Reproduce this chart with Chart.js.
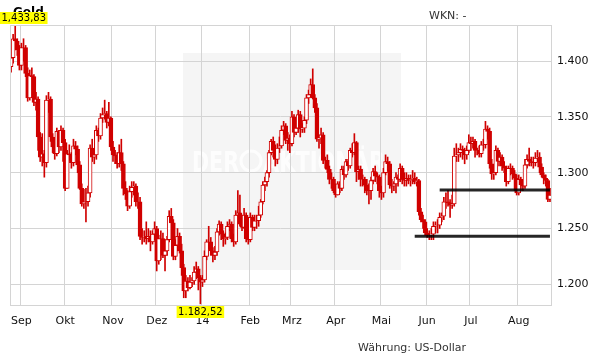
<!DOCTYPE html>
<html><head><meta charset="utf-8">
<script src="https://cdn.jsdelivr.net/npm/chart.js@4.4.1/dist/chart.umd.min.js"></script>
<style>html,body{margin:0;padding:0;background:#fff;}#wrap{width:611px;height:364px;}</style>
</head><body><div id="wrap"><canvas id="c" width="611" height="364"></canvas></div>
<script>
// ---- data ----
const startDate = [2013, 7, 26];          // first trading day shown (26 Aug 2013)
const dayCount = 260;                     // weekdays shown
const monthTickLabels = ['Sep','Okt','Nov','Dez','14','Feb','Mrz','Apr','Mai','Jun','Jul','Aug'];
const yTickValues = [1200, 1250, 1300, 1350, 1400];
const yRange = [1181.5, 1432.3];

const openPrices = [1395,1403,1420,1418,1410, 1396,1412,1412,1389,1367, 1387,1386,1363,1366,1332, 1314,1317,1309,1365,1366, 1332,1323,1317,1337,1323, 1338,
 1327,1286,1317,1316,1309, 1324,1321,1307,1286,1272, 1274,1274,1282,1322,1314, 1316,1338,1333,1349,1352, 1353,1345,1349,
 1323,1316,1315,1308,1318, 1308,1286,1281,1270,1283, 1287,1288,1274,1274,1243, 1242,1243,1241,1243,1238, 1245,
 1250,1221,1241,1241,1226, 1230,1240,1261,1255,1225, 1235,1243,1230,1215,1194, 1203,1197,1202,1203,1211, 1214,1206,
 1202,1204,1225,1238,1238, 1230,1226,1229,1247,1254, 1245,1241,1242,1252,1254, 1241,1238,1262,1264,1254, 1251,1262,1241,
 1240,1260,1251,1257,1257, 1262,1274,1289,1292,1300, 1318,1328,1320,1312,1322, 1324,1338,1342,1329,1331,
 1326,1350,1336,1340,1352, 1339,1340,1347,1367,1370, 1379,1367,1358,1330,1331, 1334,1311,1311,1303,1294, 1294,
 1284,1280,1290,1286,1303, 1298,1310,1306,1320,1318, 1327,1301,1303,1294,1294, 1289,1284,1284,1293,1301, 1297,1296,
 1284,1282,1300,1310,1308, 1289,1288,1290,1296,1294, 1304,1294,1293,1295,1293, 1294,1295,1292,1293,1265, 1258,1256,
 1246,1244,1244,1245,1252, 1253,1253,1260,1261,1274, 1274,1273,1271,1272,1315, 1316,1318,1321,1320,1316, 1320,
 1327,1326,1328,1320,1320, 1317,1325,1325,1339,1337, 1308,1299,1300,1320,1310, 1314,1306,1304,1292,1304, 1304,1299,1295,
 1282,1294,1289,1288,1307, 1312,1310,1309,1309,1313, 1314,1305,1298,1295,1293, 1276];

const highPrices = [1407,1424,1434,1420,1414, 1416,1420,1414,1394,1392, 1394,1388,1372,1368,1336, 1335,1320,1369,1372,1368, 1335,1330,1340,1338,1342, 1340,
 1330,1320,1325,1318,1330, 1328,1324,1310,1290,1285, 1286,1288,1325,1330,1320, 1342,1340,1353,1358,1365, 1355,1363,1350,
 1328,1320,1318,1325,1330, 1310,1292,1284,1288,1292, 1292,1290,1282,1278,1250, 1248,1256,1250,1248,1248, 1256,
 1252,1244,1248,1246,1240, 1243,1266,1268,1258,1240, 1250,1246,1236,1218,1208, 1206,1208,1206,1216,1220, 1216,1208,
 1208,1230,1240,1252,1242, 1233,1234,1250,1257,1256, 1248,1246,1256,1258,1256, 1245,1266,1284,1280,1262, 1268,1264,1250,
 1264,1262,1262,1262,1270, 1276,1292,1296,1302,1320, 1330,1332,1325,1326,1332, 1342,1346,1344,1336,1334,
 1355,1352,1344,1356,1355, 1344,1350,1370,1374,1384, 1393,1370,1362,1334,1340, 1336,1314,1316,1306,1300, 1296,
 1290,1292,1292,1306,1306, 1312,1312,1322,1326,1335, 1328,1306,1306,1298,1296, 1294,1290,1296,1304,1306, 1300,1298,
 1288,1304,1316,1314,1310, 1294,1292,1300,1298,1308, 1306,1300,1300,1298,1298, 1302,1300,1296,1294,1268, 1262,1258,
 1250,1248,1250,1256,1256, 1258,1264,1264,1278,1282, 1284,1276,1280,1322,1326, 1322,1326,1324,1322,1324, 1334,
 1332,1332,1330,1322,1324, 1328,1330,1346,1342,1340, 1312,1304,1324,1322,1318, 1316,1310,1306,1306,1308, 1306,1302,1298,
 1298,1296,1292,1312,1316, 1322,1314,1314,1318,1320, 1318,1308,1300,1298,1294, 1286];

const lowPrices = [1390,1398,1410,1405,1392, 1392,1400,1386,1364,1365, 1380,1360,1356,1320,1310, 1306,1296,1305,1354,1328, 1318,1312,1315,1318,1320, 1310,
 1284,1286,1311,1304,1306, 1316,1300,1285,1270,1268, 1256,1270,1278,1310,1308, 1312,1328,1330,1345,1348, 1340,1342,1320,
 1310,1308,1304,1305,1302, 1280,1276,1266,1268,1278, 1280,1270,1268,1240,1236, 1238,1236,1238,1230,1236, 1240,
 1212,1218,1222,1224,1212, 1226,1238,1250,1222,1222, 1230,1228,1208,1188,1188, 1194,1196,1198,1200,1205, 1195,1182.52,
 1198,1202,1222,1232,1226, 1220,1222,1226,1244,1240, 1234,1236,1240,1248,1238, 1234,1236,1258,1252,1248, 1250,1238,1236,
 1238,1248,1248,1250,1252, 1260,1272,1284,1288,1296, 1316,1314,1306,1308,1318, 1322,1334,1326,1320,1318,
 1324,1332,1334,1336,1332, 1336,1336,1344,1362,1368, 1366,1354,1328,1322,1326, 1308,1304,1300,1290,1286, 1282,
 1278,1280,1282,1284,1294, 1296,1302,1304,1314,1316, 1292,1294,1288,1288,1282, 1280,1272,1276,1290,1292, 1290,1278,
 1276,1278,1298,1302,1286, 1282,1284,1282,1288,1292, 1290,1288,1288,1290,1288, 1290,1290,1288,1262,1256, 1250,1244,
 1242,1240,1240,1240,1246, 1246,1250,1256,1258,1268, 1270,1260,1268,1270,1310, 1310,1314,1312,1308,1312, 1318,
 1320,1322,1314,1316,1314, 1314,1320,1322,1330,1304, 1294,1294,1298,1306,1306, 1302,1300,1288,1290,1298, 1294,1284,1280,
 1280,1284,1284,1286,1304, 1306,1306,1304,1306,1310, 1300,1296,1290,1288,1274, 1274];

const closePrices = [1403,1420,1418,1410,1396, 1412,1412,1389,1367,1387, 1386,1363,1366,1332,1314, 1317,1309,1365,1366,1332, 1323,1317,1337,1323,1338, 1327,
 1286,1317,1316,1309,1324, 1321,1307,1286,1272,1274, 1274,1282,1322,1314,1316, 1338,1333,1349,1352,1353, 1345,1349,1323,
 1316,1315,1308,1318,1308, 1286,1281,1270,1283,1287, 1288,1274,1274,1243,1242, 1243,1241,1243,1238,1245, 1250,
 1221,1241,1241,1226,1230, 1240,1261,1255,1225,1235, 1243,1230,1215,1194,1203, 1197,1202,1203,1211,1214, 1206,1202,
 1204,1225,1238,1238,1230, 1226,1229,1247,1254,1245, 1241,1242,1252,1254,1241, 1238,1262,1264,1254,1251, 1262,1241,1240,
 1260,1251,1257,1257,1262, 1274,1289,1292,1300,1318, 1328,1320,1312,1322,1324, 1338,1342,1329,1331,1326,
 1350,1336,1340,1352,1339, 1340,1347,1367,1370,1379, 1367,1358,1330,1331,1334, 1311,1311,1303,1294,1294, 1284,
 1280,1290,1286,1303,1298, 1310,1306,1320,1318,1327, 1301,1303,1294,1294,1289, 1284,1284,1293,1301,1297, 1296,1284,
 1282,1300,1310,1308,1289, 1288,1290,1296,1294,1304, 1294,1293,1295,1293,1294, 1295,1292,1293,1265,1258, 1256,1246,
 1244,1244,1245,1252,1253, 1253,1260,1261,1274,1274, 1273,1271,1272,1315,1316, 1318,1321,1320,1316,1320, 1327,
 1326,1328,1320,1320,1317, 1325,1325,1339,1337,1308, 1299,1300,1320,1310,1314, 1306,1304,1292,1304,1304, 1299,1295,1282,
 1294,1289,1288,1307,1312, 1310,1309,1309,1313,1314, 1305,1298,1295,1293,1276, 1280];

const supportLevels = [1284.5, 1243];
const supportStartDates = ['2014-06-10', '2014-05-23'];
const extremeLabels = ['1,433,83', '1.182,52'];   // max high / min low as printed
const titleText = 'Gold';
const wknText = 'WKN: -';
const currencyText = 'Währung: US-Dollar';
const watermarkParts = ['DER', 'AKTIONÄR'];

// ---- categories (weekday calendar) ----
const dates = [];
{
  const d = new Date(Date.UTC(startDate[0], startDate[1], startDate[2]));
  while (dates.length < dayCount) {
    const wd = d.getUTCDay();
    if (wd !== 0 && wd !== 6) dates.push(d.toISOString().slice(0, 10));
    d.setUTCDate(d.getUTCDate() + 1);
  }
}
const monthStartIdx = [];
for (let i = 1; i < dates.length; i++) if (dates[i].slice(5, 7) !== dates[i - 1].slice(5, 7)) monthStartIdx.push(i);
const labelAt = {};
monthStartIdx.forEach((idx, k) => { labelAt[idx] = monthTickLabels[k]; });

const RED = '#d00000';
const wickData = dates.map((_, i) => [lowPrices[i], highPrices[i]]);
const bodyData = dates.map((_, i) => [openPrices[i], closePrices[i]]);
const bodyFill = dates.map((_, i) => closePrices[i] > openPrices[i] ? '#ffffff' : RED);
const supportSets = supportLevels.map((lvl, k) => {
  const s = dates.indexOf(supportStartDates[k]);
  return {
    type: 'line', data: dates.map((_, i) => i >= s ? lvl : null),
    borderColor: 'rgba(0,0,0,0.85)', borderWidth: 3, pointRadius: 0, spanGaps: false, order: 0
  };
});

const deFmt = v => String(v).replace(/\B(?=(\d{3})+(?!\d))/g, '.');

const decor = {
  id: 'decor',
  beforeDraw(chart) {
    const c = chart.ctx;
    c.save();
    c.fillStyle = '#fff'; c.fillRect(0, 0, chart.width, chart.height);
    // watermark panel
    c.fillStyle = '#f5f5f5'; c.fillRect(183, 53, 218, 217);
    c.fillStyle = '#fdfdfd'; c.strokeStyle = '#fdfdfd';
    c.font = 'bold 29px "DejaVu Sans"'; c.textBaseline = 'alphabetic';
    c.fillText(watermarkParts[0], 192, 172, 47);
    c.lineWidth = 3; c.beginPath(); c.arc(251, 161, 10, 0, Math.PI * 2); c.stroke();
    c.fillText(watermarkParts[1], 263, 172, 122);
    c.restore();
  },
  afterDraw(chart) {
    const c = chart.ctx, a = chart.chartArea, xs = chart.scales.x;
    c.save();
    c.strokeStyle = '#d4d4d4'; c.lineWidth = 1;
    c.strokeRect(Math.round(a.left) + 0.5, Math.round(a.top) + 0.5, Math.round(a.right - a.left), Math.round(a.bottom - a.top));
    // title
    c.fillStyle = '#000'; c.font = 'bold 12px "DejaVu Sans"'; c.textBaseline = 'alphabetic';
    c.fillText(titleText, 13, 16);
    // extreme labels
    let hi = 0, lo = 0;
    highPrices.forEach((v, i) => { if (v > highPrices[hi]) hi = i; });
    lowPrices.forEach((v, i) => { if (v < lowPrices[lo]) lo = i; });
    c.font = '10px "DejaVu Sans"';
    const drawTag = (txt, idx, top) => {
      const w = c.measureText(txt).width + 3;
      let x = xs.getPixelForValue(idx) - w / 2;
      x = Math.max(0, x);
      c.fillStyle = '#ffff00'; c.fillRect(x, top, w, 12);
      c.fillStyle = '#000'; c.textBaseline = 'middle';
      c.fillText(txt, x + 1.5, top + 6.5);
    };
    drawTag(extremeLabels[0], hi, a.top - 13);
    drawTag(extremeLabels[1], lo, a.bottom + 1);
    c.font = '11px "DejaVu Sans"'; c.fillStyle = '#333'; c.textBaseline = 'alphabetic';
    c.fillText(wknText, 429, 19);
    c.fillText(currencyText, 358, 351);
    c.restore();
  }
};

new Chart(document.getElementById('c'), {
  type: 'bar',
  data: {
    labels: dates,
    datasets: [
      { data: wickData, backgroundColor: RED, borderWidth: 0, barThickness: 1, grouped: false, order: 2 },
      { data: bodyData, backgroundColor: bodyFill, borderColor: RED, borderWidth: 1, borderSkipped: false,
        barThickness: 4, grouped: false, order: 1 },
      ...supportSets
    ]
  },
  options: {
    responsive: false, animation: false, events: [],
    layout: { padding: { left: 10, top: 25, right: 0, bottom: 0 } },
    plugins: { legend: { display: false }, tooltip: { enabled: false } },
    scales: {
      x: {
        type: 'category', offset: true,
        grid: { offset: true, drawTicks: false, color: ctx => (ctx.index === 0 || labelAt[ctx.index] !== undefined) ? '#d4d4d4' : 'rgba(0,0,0,0)' },
        border: { display: true, color: '#cfcfcf' },
        ticks: { autoSkip: false, maxRotation: 0, minRotation: 0, padding: 10, color: '#111',
          font: { family: 'DejaVu Sans', size: 11 },
          callback: (v, i) => labelAt[i] !== undefined ? labelAt[i] : '' },
        afterFit: s => { s.height = 59; }
      },
      y: {
        position: 'right', min: yRange[0], max: yRange[1],
        grid: { drawTicks: false, color: '#d4d4d4' },
        border: { display: true, color: '#d4d4d4' },
        afterBuildTicks: s => { s.ticks = yTickValues.map(v => ({ value: v })); },
        ticks: { padding: 6, color: '#111', font: { family: 'DejaVu Sans', size: 11 }, callback: v => deFmt(v) },
        afterFit: s => { s.width = 60; }
      }
    }
  },
  plugins: [decor]
});
</script></body></html>
